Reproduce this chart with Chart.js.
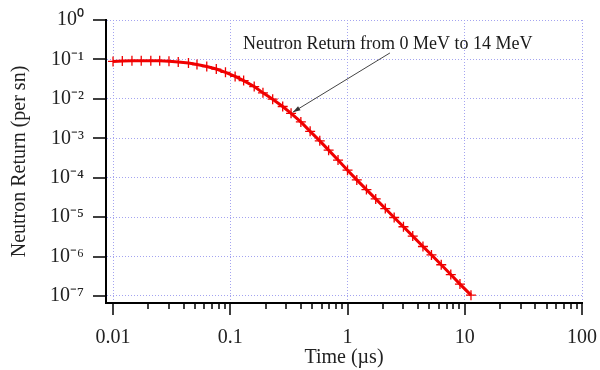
<!DOCTYPE html>
<html>
<head>
<meta charset="utf-8">
<script src="https://cdn.jsdelivr.net/npm/chart.js@4.4.1/dist/chart.umd.min.js"></script>
<style>
  html, body { margin: 0; padding: 0; background: #fff; }
  #wrap { width: 600px; height: 370px; }
</style>
</head>
<body>
<div id="wrap"><canvas id="chart" width="600" height="370"></canvas></div>
<script>
// time (µs) and neutron return (per sn)
const times = [0.01, 0.012, 0.0145, 0.0174, 0.021, 0.025, 0.030, 0.036, 0.044, 0.052,
  0.063, 0.076, 0.091, 0.11, 0.13, 0.16, 0.19, 0.23, 0.28, 0.33,
  0.40, 0.48, 0.58, 0.69, 0.83, 1.0, 1.2, 1.45, 1.74, 2.1,
  2.5, 3.0, 3.6, 4.4, 5.2, 6.3, 7.6, 9.1, 11.3];
const neutronReturn = [0.089, 0.091, 0.092, 0.093, 0.093, 0.092, 0.090, 0.086, 0.081, 0.074,
  0.066, 0.057, 0.047, 0.037, 0.029, 0.0205, 0.0142, 0.0098, 0.0064, 0.0043,
  0.0026, 0.0015, 8.6e-4, 5.0e-4, 2.8e-4, 1.55e-4, 8.8e-5, 5.0e-5, 2.9e-5, 1.65e-5,
  9.8e-6, 5.7e-6, 3.3e-6, 1.8e-6, 1.1e-6, 6.2e-7, 3.5e-7, 2.0e-7, 1.05e-7];

const xDecades = [0.01, 0.1, 1, 10, 100];
const xLabels = ['0.01', '0.1', '1', '10', '100'];
const yDecades = [1, 0.1, 0.01, 1e-3, 1e-4, 1e-5, 1e-6, 1e-7];
const yLabels = ['10⁰', '10⁻¹', '10⁻²', '10⁻³', '10⁻⁴', '10⁻⁵', '10⁻⁶', '10⁻⁷'];

const noteText = 'Neutron Return from 0 MeV to 14 MeV';
const noteAt = { x: 0.1285, y: 0.184 };
const arrowFrom = { x: 2.3, y: 0.146 };
const arrowTo = { x: times[19], y: neutronReturn[19] };

const serif = 'Liberation Serif';
const gridColor = '#a4a4f0';
const lineRed = '#f00000';

const isDecade = v => Math.abs(Math.log10(v) - Math.round(Math.log10(v))) < 1e-6;
const labelFor = (v, list, labels) => {
  const i = list.findIndex(d => Math.abs(Math.log10(d) - Math.log10(v)) < 1e-6);
  return i < 0 ? '' : labels[i];
};

// minor ticks 2..9 in each decade of the x axis
const xTickValues = [];
xDecades.forEach((d, i) => {
  xTickValues.push(d);
  if (i < xDecades.length - 1) for (let m = 2; m <= 9; m++) xTickValues.push(d * m);
});

const axisTicks = {
  id: 'axisTicks',
  afterDraw(chart) {
    const { ctx, chartArea: a, scales: { x, y } } = chart;
    ctx.save();
    ctx.strokeStyle = '#000';
    ctx.lineWidth = 1.5;
    ctx.beginPath();
    x.ticks.forEach(t => {
      const px = Math.round(x.getPixelForValue(t.value));
      ctx.moveTo(px, a.bottom);
      ctx.lineTo(px, a.bottom + (isDecade(t.value) ? 12 : 6));
    });
    y.ticks.forEach(t => {
      const py = Math.round(y.getPixelForValue(t.value));
      ctx.moveTo(a.left - 13, py);
      ctx.lineTo(a.left, py);
    });
    ctx.stroke();

    // annotation + arrow
    ctx.fillStyle = '#1a1a1a';
    ctx.font = '18px "' + serif + '"';
    ctx.textBaseline = 'alphabetic';
    ctx.textAlign = 'left';
    ctx.fillText(noteText, x.getPixelForValue(noteAt.x), y.getPixelForValue(noteAt.y));

    const x0 = x.getPixelForValue(arrowFrom.x), y0 = y.getPixelForValue(arrowFrom.y);
    let x1 = x.getPixelForValue(arrowTo.x), y1 = y.getPixelForValue(arrowTo.y);
    const ang = Math.atan2(y1 - y0, x1 - x0);
    x1 -= 2 * Math.cos(ang); y1 -= 2 * Math.sin(ang);
    ctx.strokeStyle = '#444';
    ctx.fillStyle = '#333';
    ctx.lineWidth = 1;
    ctx.beginPath();
    ctx.moveTo(x0, y0);
    ctx.lineTo(x1, y1);
    ctx.stroke();
    ctx.beginPath();
    ctx.moveTo(x1, y1);
    ctx.lineTo(x1 - 8 * Math.cos(ang - 0.3), y1 - 8 * Math.sin(ang - 0.3));
    ctx.lineTo(x1 - 8 * Math.cos(ang + 0.3), y1 - 8 * Math.sin(ang + 0.3));
    ctx.closePath();
    ctx.fill();
    ctx.restore();
  }
};

new Chart(document.getElementById('chart'), {
  type: 'line',
  data: {
    datasets: [{
      data: times.map((t, i) => ({ x: t, y: neutronReturn[i] })),
      borderColor: lineRed,
      borderWidth: 3,
      pointStyle: 'cross',
      pointRadius: 5,
      pointBorderWidth: 1.3,
      pointBorderColor: lineRed,
      pointBackgroundColor: lineRed,
      tension: 0
    }]
  },
  options: {
    responsive: false,
    animation: false,
    devicePixelRatio: 1,
    layout: { padding: { top: 20, right: 18, left: 0, bottom: 0 } },
    plugins: { legend: { display: false }, tooltip: { enabled: false } },
    scales: {
      x: {
        type: 'logarithmic',
        min: 0.00871,
        max: 100,
        afterBuildTicks: s => { s.ticks = xTickValues.map(v => ({ value: v })); },
        afterFit: s => { s.height = 67; s.paddingLeft = 0; s.paddingRight = 0; },
        grid: {
          color: c => (c.tick && isDecade(c.tick.value)) ? gridColor : 'rgba(0,0,0,0)',
          lineWidth: 1,
          drawTicks: false
        },
        border: { display: true, color: '#000', width: 2, dash: [1, 2] },
        ticks: {
          autoSkip: false,
          maxRotation: 0,
          padding: 23,
          color: '#222',
          font: { family: serif, size: 20 },
          callback: v => labelFor(v, xDecades, xLabels)
        },
        title: {
          display: true,
          text: 'Time (µs)',
          color: '#222',
          font: { family: serif, size: 20 },
          padding: { top: 0, bottom: 0 }
        }
      },
      y: {
        type: 'logarithmic',
        min: 6.64e-8,
        max: 1,
        afterBuildTicks: s => { s.ticks = yDecades.map(v => ({ value: v })); },
        afterFit: s => { s.width = 106; s.paddingTop = 0; s.paddingBottom = 0; },
        grid: { color: gridColor, lineWidth: 1, drawTicks: false },
        border: { display: true, color: '#000', width: 2, dash: [1, 2] },
        ticks: {
          autoSkip: false,
          padding: 22,
          color: '#222',
          font: { family: serif, size: 20 },
          callback: v => labelFor(v, yDecades, yLabels)
        },
        title: {
          display: true,
          text: 'Neutron Return (per sn)',
          color: '#222',
          font: { family: serif, size: 20 },
          padding: { top: 8, bottom: 0 }
        }
      }
    }
  },
  plugins: [axisTicks]
});
</script>
</body>
</html>
